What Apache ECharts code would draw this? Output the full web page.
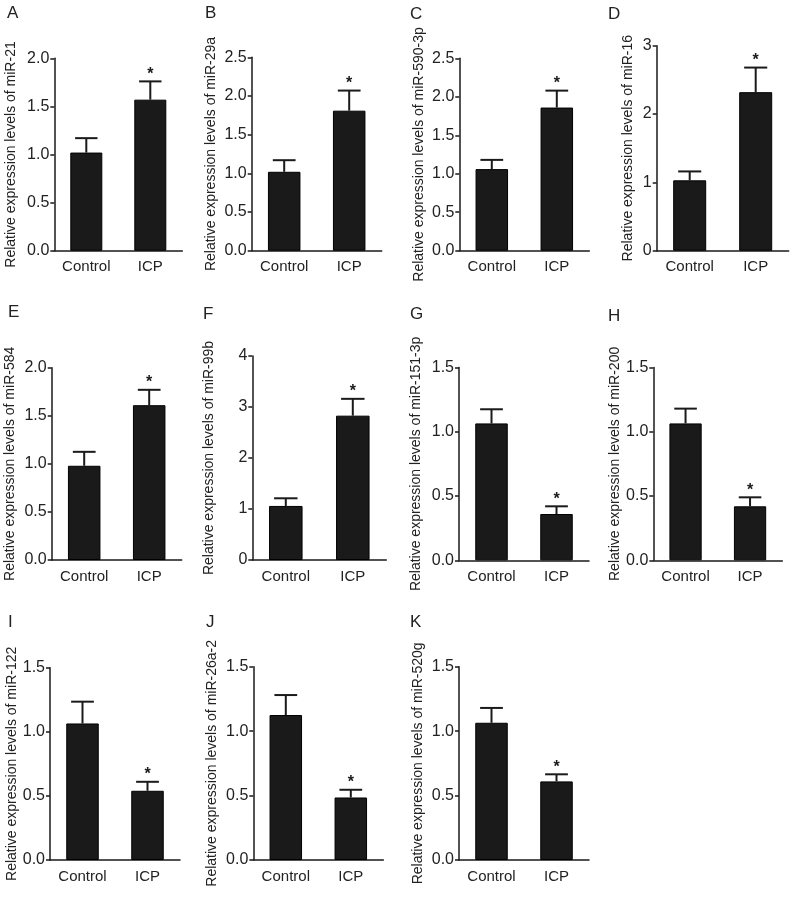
<!DOCTYPE html>
<html>
<head>
<meta charset="utf-8">
<script src="https://cdn.jsdelivr.net/npm/echarts@6/dist/echarts.min.js"></script>
<style>
html,body{margin:0;padding:0;background:#fff;}
#chart{width:800px;height:898px;}
</style>
</head>
<body>
<div id="chart"></div>
<script>
// ---- data ----
const panelLetters = ['A','B','C','D','E','F','G','H','I','J','K'];
const mirNames = ['miR-21','miR-29a','miR-590-3p','miR-16','miR-584','miR-99b','miR-151-3p','miR-200','miR-122','miR-26a-2','miR-520g'];
const categories = ['Control','ICP'];
const controlMean = [1.02, 1.02, 1.06, 1.03, 0.98, 1.06, 1.065, 1.065, 1.065, 1.125, 1.065];
const controlErr  = [0.15, 0.15, 0.12, 0.13, 0.145, 0.15, 0.11, 0.115, 0.17, 0.155, 0.115];
const icpMean     = [1.57, 1.81, 1.86, 2.32, 1.61, 2.83, 0.36, 0.42, 0.54, 0.485, 0.61];
const icpErr      = [0.19, 0.26, 0.22, 0.36, 0.16, 0.33, 0.06, 0.07, 0.07, 0.06, 0.055];
const icpSignificant = [true,true,true,true,true,true,true,true,true,true,true];
const yMaxTicks   = [2, 2.5, 2.5, 3, 2, 4, 1.5, 1.5, 1.5, 1.5, 1.5];
const yIntervals  = [0.5, 0.5, 0.5, 1, 0.5, 1, 0.5, 0.5, 0.5, 0.5, 0.5];

// ---- layout (positions only) ----
// [left(axis x), top(y of max tick), width, bottom(y of zero)]
const gridBoxes = [
  [54.3, 58.3, 128, 250.7],
  [251.7, 57.3, 130, 250.7],
  [459.3, 58.3, 130, 250.7],
  [656.7, 45.7, 132, 250.7],
  [51.7, 367.7, 130, 560],
  [252.3, 356, 134, 560],
  [459, 367.5, 130, 560.3],
  [653.3, 367.5, 129, 560.3],
  [50, 667.7, 130, 860],
  [253.3, 666.7, 130, 860],
  [459, 666.7, 130, 860]
];
const nameGaps = [36, 34, 33, 22, 35, 36, 36, 30, 30, 34, 34];
const letterPos = [[7,5],[205,5],[410,6],[608,6],[8,304],[203,306],[410,306],[608,308],[8,614],[206,614],[410,614]];

const FONT = '"Liberation Sans", Arial, sans-serif';
const INK = '#1a1a1a';
const TXT = '#222';

const grids = [], xAxes = [], yAxes = [], series = [], titles = [];
panelLetters.forEach((letter, i) => {
  const [l, t, w, b] = gridBoxes[i];
  grids.push({left: l, top: t, width: w, height: b - t, containLabel: false});
  titles.push({text: letter, left: letterPos[i][0], top: letterPos[i][1], padding: 0,
    textStyle: {fontFamily: FONT, fontSize: 17, fontWeight: 'normal', color: TXT}});
  xAxes.push({
    type: 'category', gridIndex: i, data: categories,
    axisLine: {lineStyle: {color: INK, width: 1.5}},
    axisTick: {show: false},
    axisLabel: {fontFamily: FONT, fontSize: 15, color: TXT, margin: 9, interval: 0, hideOverlap: false}
  });
  const dec = yIntervals[i] < 1 ? 1 : 0;
  yAxes.push({
    type: 'value', gridIndex: i, min: 0, max: yMaxTicks[i], interval: yIntervals[i],
    name: 'Relative expression levels of ' + mirNames[i],
    nameLocation: 'middle', nameGap: nameGaps[i],
    nameTextStyle: {fontFamily: FONT, fontSize: 14, color: TXT},
    axisLine: {show: true, lineStyle: {color: INK, width: 1.5}},
    axisTick: {show: true, length: 4, lineStyle: {color: INK, width: 1.5}},
    splitLine: {show: false},
    axisLabel: {fontFamily: FONT, fontSize: 16, color: TXT, margin: 5,
      formatter: v => v.toFixed(dec)}
  });
  series.push({
    type: 'bar', xAxisIndex: i, yAxisIndex: i, barWidth: '50%',
    data: [controlMean[i], icpMean[i]],
    itemStyle: {color: INK, borderColor: '#000', borderWidth: 1},
    silent: true, animation: false
  });
  series.push({
    type: 'custom', xAxisIndex: i, yAxisIndex: i, z: 5, animation: false, silent: true,
    data: [[0, controlMean[i], controlErr[i], 0], [1, icpMean[i], icpErr[i], icpSignificant[i] ? 1 : 0]],
    renderItem: (params, api) => {
      const x = api.value(0), m = api.value(1), e = api.value(2), star = api.value(3);
      const base = api.coord([x, m]);
      const top = api.coord([x, m + e]);
      const band = api.size([1, 0])[0];
      const half = band * 0.5 * 0.35;
      const children = [
        {type: 'line', shape: {x1: base[0], y1: base[1], x2: top[0], y2: top[1]}, style: {stroke: INK, lineWidth: 2}},
        {type: 'line', shape: {x1: top[0] - half, y1: top[1], x2: top[0] + half, y2: top[1]}, style: {stroke: INK, lineWidth: 2}}
      ];
      if (star) {
        children.push({type: 'text', x: top[0], y: top[1] + 1,
          style: {text: '*', font: 'bold 16px ' + FONT, fill: INK, align: 'center', verticalAlign: 'bottom'}});
      }
      return {type: 'group', children};
    }
  });
});

const chart = echarts.init(document.getElementById('chart'), null, {renderer: 'canvas'});
chart.setOption({
  animation: false,
  backgroundColor: '#fff',
  title: titles,
  grid: grids,
  xAxis: xAxes,
  yAxis: yAxes,
  series: series
});
</script>
</body>
</html>
